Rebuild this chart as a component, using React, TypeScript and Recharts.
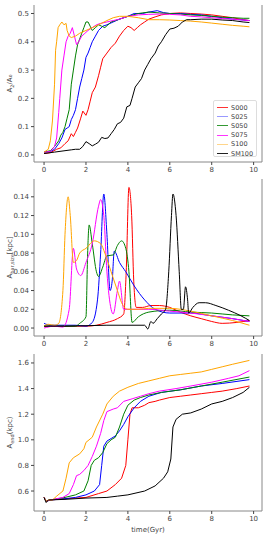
import { LineChart, Line, XAxis, YAxis } from 'recharts';

type Pt = [number, number];

// series names and colours
const names = ['S000', 'S025', 'S050', 'S075', 'S100', 'SM100'];
const colors = ['#ff0000', '#0000ff', '#008000', '#ff00ff', '#ffa500', '#000000'];
const legendColors = ['#ff3333', '#9999ff', '#339933', '#ff33ff', '#ffd58a', '#222222'];

const xTicks = [0, 2, 4, 6, 8, 10];
const ratioTicks = [0, 0.1, 0.2, 0.3, 0.4, 0.5];
const sizeTicks = [0, 0.02, 0.04, 0.06, 0.08, 0.1, 0.12, 0.14];
const endTicks = [0.6, 0.8, 1.0, 1.2, 1.4, 1.6];

// panel 1: A2/A0
const ratioS000: Pt[] = [[0,0.005],[0.3,0.008],[0.6,0.02],[0.8,0.025],[1.0,0.04],[1.15,0.05],[1.3,0.075],[1.4,0.065],[1.5,0.08],[1.6,0.095],[1.75,0.13],[1.85,0.155],[2.0,0.14],[2.1,0.16],[2.2,0.19],[2.3,0.22],[2.45,0.24],[2.6,0.28],[2.7,0.31],[2.8,0.34],[3.0,0.36],[3.2,0.38],[3.4,0.395],[3.6,0.42],[3.8,0.44],[4.0,0.455],[4.15,0.45],[4.3,0.44],[4.45,0.45],[4.6,0.46],[4.8,0.47],[5.0,0.48],[5.3,0.488],[5.6,0.495],[6.0,0.5],[6.5,0.502],[7.0,0.5],[7.5,0.498],[8.0,0.495],[8.5,0.49],[9.0,0.485],[9.5,0.478],[9.8,0.475]];
const ratioS025: Pt[] = [[0,0.01],[0.3,0.012],[0.5,0.02],[0.7,0.04],[0.85,0.06],[1.0,0.09],[1.1,0.095],[1.2,0.1],[1.3,0.125],[1.4,0.14],[1.5,0.16],[1.6,0.2],[1.7,0.24],[1.8,0.27],[1.9,0.3],[2.0,0.345],[2.1,0.36],[2.2,0.38],[2.3,0.4],[2.45,0.42],[2.6,0.44],[2.8,0.455],[3.0,0.46],[3.3,0.47],[3.6,0.48],[4.0,0.49],[4.3,0.5],[4.7,0.5],[5.0,0.505],[5.4,0.51],[5.7,0.503],[6.0,0.5],[6.5,0.5],[7.0,0.497],[7.5,0.495],[8.0,0.49],[8.5,0.485],[9.0,0.48],[9.5,0.477],[9.8,0.475]];
const ratioS050: Pt[] = [[0,0.01],[0.3,0.015],[0.5,0.03],[0.7,0.05],[0.8,0.07],[0.9,0.08],[1.0,0.1],[1.1,0.13],[1.2,0.16],[1.3,0.25],[1.4,0.3],[1.5,0.35],[1.6,0.39],[1.7,0.41],[1.8,0.43],[1.9,0.45],[2.0,0.47],[2.1,0.47],[2.2,0.455],[2.3,0.44],[2.45,0.45],[2.6,0.46],[2.75,0.455],[2.9,0.45],[3.05,0.46],[3.2,0.47],[3.4,0.475],[3.6,0.48],[4.0,0.49],[4.5,0.5],[5.0,0.505],[5.5,0.502],[6.0,0.5],[6.5,0.498],[7.0,0.495],[7.5,0.493],[8.0,0.49],[8.5,0.487],[9.0,0.485],[9.5,0.483],[9.8,0.483]];
const ratioS075: Pt[] = [[0,0.01],[0.3,0.012],[0.5,0.03],[0.6,0.06],[0.7,0.15],[0.75,0.2],[0.85,0.3],[0.95,0.35],[1.05,0.4],[1.15,0.42],[1.25,0.43],[1.35,0.45],[1.45,0.42],[1.55,0.39],[1.65,0.4],[1.8,0.42],[1.95,0.43],[2.1,0.44],[2.3,0.45],[2.5,0.46],[2.7,0.465],[3.0,0.47],[3.3,0.475],[3.6,0.48],[4.0,0.49],[4.5,0.495],[5.0,0.497],[5.5,0.498],[6.0,0.497],[6.5,0.495],[7.0,0.49],[7.5,0.488],[8.0,0.485],[8.5,0.482],[9.0,0.48],[9.5,0.477],[9.8,0.475]];
const ratioS100: Pt[] = [[0,0.01],[0.2,0.02],[0.3,0.05],[0.4,0.12],[0.5,0.25],[0.55,0.37],[0.6,0.4],[0.67,0.45],[0.75,0.46],[0.85,0.47],[0.95,0.46],[1.05,0.465],[1.1,0.44],[1.2,0.42],[1.3,0.415],[1.5,0.42],[1.7,0.43],[2.0,0.44],[2.3,0.45],[2.6,0.46],[3.0,0.475],[3.3,0.485],[3.6,0.49],[4.0,0.49],[4.5,0.485],[5.0,0.478],[5.5,0.478],[6.0,0.477],[6.5,0.475],[7.0,0.473],[7.5,0.47],[8.0,0.466],[8.5,0.462],[9.0,0.458],[9.5,0.455],[9.8,0.453]];
const ratioSM100: Pt[] = [[0,0.005],[0.5,0.01],[1.0,0.015],[1.3,0.018],[1.5,0.02],[1.7,0.02],[1.85,0.03],[2.0,0.047],[2.15,0.04],[2.3,0.032],[2.45,0.038],[2.6,0.045],[2.75,0.062],[2.9,0.058],[3.05,0.06],[3.2,0.075],[3.35,0.09],[3.5,0.11],[3.65,0.115],[3.8,0.13],[3.95,0.17],[4.1,0.175],[4.2,0.2],[4.35,0.24],[4.5,0.255],[4.65,0.27],[4.8,0.3],[4.95,0.32],[5.1,0.34],[5.3,0.36],[5.45,0.385],[5.6,0.4],[5.8,0.425],[6.0,0.445],[6.2,0.448],[6.4,0.455],[6.6,0.47],[6.8,0.478],[7.0,0.478],[7.5,0.48],[8.0,0.48],[8.5,0.477],[9.0,0.475],[9.5,0.47],[9.8,0.468]];

// panel 2: bar size
const sizeS000: Pt[] = [[0,0.002],[1.0,0.002],[2.0,0.002],[2.5,0.003],[3.0,0.006],[3.5,0.01],[3.8,0.015],[3.92,0.06],[4.05,0.15],[4.18,0.12],[4.28,0.05],[4.4,0.022],[4.7,0.022],[5.1,0.024],[5.5,0.024],[6.0,0.022],[6.5,0.017],[7.0,0.013],[7.5,0.01],[8.0,0.007],[8.5,0.005],[9.2,0.006],[9.8,0.008]];
const sizeS025: Pt[] = [[0,0.005],[0.3,0.003],[1.0,0.003],[1.5,0.003],[2.0,0.002],[2.3,0.006],[2.55,0.03],[2.7,0.08],[2.85,0.143],[3.0,0.1],[3.15,0.04],[3.25,0.05],[3.35,0.082],[3.6,0.07],[3.9,0.06],[4.3,0.045],[4.8,0.03],[5.3,0.02],[6.0,0.016],[7.0,0.016],[8.0,0.013],[9.0,0.01],[9.8,0.007]];
const sizeS050: Pt[] = [[0,0.002],[0.5,0.002],[1.0,0.002],[1.5,0.002],[1.7,0.005],[2.0,0.012],[2.08,0.08],[2.15,0.11],[2.3,0.09],[2.5,0.06],[2.6,0.055],[2.8,0.065],[3.0,0.077],[3.3,0.078],[3.5,0.088],[3.7,0.093],[3.9,0.085],[4.05,0.06],[4.2,0.006],[4.5,0.012],[5.0,0.017],[6.0,0.019],[7.0,0.017],[8.0,0.016],[9.0,0.014],[9.8,0.013]];
const sizeS075: Pt[] = [[0,0],[0.5,0.002],[0.9,0.001],[1.2,0.02],[1.4,0.085],[1.55,0.063],[1.75,0.056],[2.0,0.07],[2.3,0.09],[2.6,0.13],[2.7,0.137],[2.85,0.12],[3.0,0.06],[3.2,0.02],[3.3,0.015],[3.5,0.04],[3.6,0.05],[3.8,0.02],[4.0,0.02],[5.0,0.02],[6.0,0.018],[7.0,0.016],[8.0,0.013],[9.0,0.01],[9.8,0.007]];
const sizeS100: Pt[] = [[0,0.002],[0.2,0.004],[0.5,0.003],[0.7,0.005],[0.9,0.04],[1.0,0.1],[1.15,0.14],[1.25,0.12],[1.4,0.07],[1.55,0.072],[1.7,0.08],[2.0,0.085],[2.4,0.093],[2.7,0.09],[2.9,0.08],[3.2,0.06],[3.5,0.04],[3.7,0.027],[4.0,0.02],[4.5,0.02],[5.0,0.021],[6.0,0.021],[7.0,0.018],[8.0,0.013],[9.0,0.008],[9.8,0.003]];
const sizeSM100: Pt[] = [[0,0.002],[1.0,0.002],[3.0,0.003],[4.8,0.003],[4.95,-0.001],[5.1,0.007],[5.2,0.005],[5.4,0.01],[5.6,0.015],[5.8,0.02],[5.95,0.06],[6.08,0.12],[6.15,0.143],[6.3,0.12],[6.45,0.06],[6.55,0.02],[6.65,0.02],[6.75,0.044],[6.85,0.03],[6.9,0.016],[7.1,0.022],[7.4,0.027],[7.7,0.027],[8.2,0.024],[8.8,0.019],[9.4,0.013],[9.8,0.008]];

// panel 3: bar end
const endS000: Pt[] = [[0,0.55],[0.1,0.52],[0.3,0.53],[1.0,0.54],[2.0,0.55],[2.6,0.58],[3.0,0.6],[3.4,0.65],[3.7,0.7],[3.9,0.8],[4.0,1.0],[4.1,1.2],[4.2,1.25],[4.5,1.25],[4.8,1.27],[5.0,1.29],[5.3,1.3],[5.5,1.31],[6.0,1.33],[6.5,1.34],[7.0,1.35],[7.5,1.36],[8.0,1.37],[8.5,1.38],[9.2,1.4],[9.8,1.42]];
const endS025: Pt[] = [[0,0.55],[0.1,0.52],[0.3,0.53],[1.0,0.54],[1.5,0.55],[2.0,0.57],[2.4,0.6],[2.65,0.65],[2.75,0.8],[2.85,0.95],[3.0,0.99],[3.2,1.01],[3.4,1.03],[3.6,1.07],[3.8,1.12],[4.0,1.18],[4.3,1.25],[4.6,1.3],[5.0,1.34],[5.6,1.37],[6.5,1.39],[7.5,1.42],[8.5,1.44],[9.8,1.47]];
const endS050: Pt[] = [[0,0.55],[0.1,0.52],[0.3,0.53],[1.0,0.55],[1.5,0.57],[1.9,0.6],[2.1,0.68],[2.25,0.8],[2.4,0.84],[2.6,0.86],[2.8,0.9],[3.0,0.97],[3.2,1.0],[3.4,1.02],[3.6,1.1],[3.8,1.2],[4.0,1.27],[4.3,1.31],[4.6,1.33],[5.0,1.35],[5.6,1.37],[6.5,1.39],[7.5,1.42],[8.5,1.45],[9.8,1.49]];
const endS075: Pt[] = [[0,0.55],[0.1,0.52],[0.3,0.53],[0.9,0.55],[1.2,0.58],[1.4,0.65],[1.55,0.72],[1.7,0.73],[1.9,0.76],[2.1,0.8],[2.3,0.87],[2.5,0.95],[2.7,1.05],[2.85,1.15],[3.0,1.22],[3.3,1.24],[3.5,1.25],[3.8,1.3],[4.2,1.32],[4.6,1.34],[5.0,1.36],[5.5,1.38],[6.3,1.4],[7.0,1.42],[8.0,1.45],[8.8,1.48],[9.3,1.5],[9.8,1.54]];
const endS100: Pt[] = [[0,0.55],[0.1,0.52],[0.2,0.53],[0.4,0.53],[0.6,0.56],[0.9,0.6],[1.05,0.7],[1.2,0.82],[1.4,0.86],[1.7,0.89],[1.9,0.93],[2.0,0.98],[2.3,1.02],[2.5,1.1],[2.8,1.2],[3.0,1.28],[3.3,1.34],[3.6,1.38],[4.0,1.41],[4.5,1.44],[5.0,1.46],[5.5,1.48],[6.0,1.5],[6.5,1.51],[7.0,1.52],[7.5,1.53],[8.0,1.55],[8.5,1.57],[9.0,1.59],[9.8,1.62]];
const endSM100: Pt[] = [[0,0.55],[0.1,0.51],[0.2,0.53],[1.0,0.535],[2.0,0.545],[3.0,0.55],[3.5,0.56],[4.0,0.57],[4.8,0.6],[5.3,0.64],[5.7,0.7],[5.9,0.75],[6.05,0.85],[6.15,1.1],[6.3,1.16],[6.6,1.2],[7.0,1.21],[7.5,1.24],[8.0,1.28],[8.5,1.3],[9.0,1.33],[9.5,1.37],[9.8,1.41]];

const ratioSeries = [ratioS000, ratioS025, ratioS050, ratioS075, ratioS100, ratioSM100];
const sizeSeries = [sizeS000, sizeS025, sizeS050, sizeS075, sizeS100, sizeSM100];
const endSeries = [endS000, endS025, endS050, endS075, endS100, endSM100];

const X_DOMAIN: [number, number] = [-0.48, 10.4];
const FRAME = '#888';
const TEXT = '#444';

const toRows = (pts: Pt[]) => pts.map(([t, v]) => ({ t, v }));

function YTitle({ viewBox, main, sub, tail }: any) {
  const cx = 12;
  const cy = viewBox.y + viewBox.height / 2;
  return (
    <text x={cx} y={cy} transform={`rotate(-90 ${cx} ${cy})`} textAnchor="middle" fontSize={7} fill={TEXT} fontFamily="DejaVu Sans">
      <tspan>{main}</tspan>
      <tspan dy={1.5} fontSize={5}>{sub}</tspan>
      <tspan dy={-1.5}>{tail}</tspan>
    </text>
  );
}

function Legendbox() {
  return (
    <div style={{ position: 'absolute', left: 213, top: 100, width: 44, height: 57, border: '1px solid #ddd', background: 'rgba(255,255,255,0.8)', borderRadius: 2, boxSizing: 'border-box', padding: '2px 0 0 3px', fontFamily: 'DejaVu Sans', fontSize: 6.5, color: TEXT }}>
      {names.map((n, i) => (
        <div key={n} style={{ display: 'flex', alignItems: 'center', height: 9.2 }}>
          <svg width={11} height={3} style={{ marginRight: 3 }}>
            <line x1={0} y1={1.5} x2={11} y2={1.5} stroke={legendColors[i]} strokeWidth={1} />
          </svg>
          <span>{n}</span>
        </div>
      ))}
    </div>
  );
}

interface PanelProps {
  height: number;
  top: number;
  axisHeight: number;
  series: Pt[][];
  domain: [number, number];
  ticks: number[];
  digits: number;
  title: { main: string; sub: string; tail: string };
  curve: 'linear' | 'monotone';
  xLabel?: string;
}

function Panel({ height, top, axisHeight, series, domain, ticks, digits, title, curve, xLabel }: PanelProps) {
  return (
    <LineChart width={265} height={height} margin={{ top, right: 2, left: 0, bottom: 0 }}>
      <XAxis
        dataKey="t"
        type="number"
        domain={X_DOMAIN}
        ticks={xTicks}
        allowDataOverflow
        height={axisHeight}
        tickSize={3}
        tick={{ fontSize: 7, fill: TEXT, fontFamily: 'DejaVu Sans' }}
        axisLine={{ stroke: FRAME }}
        tickLine={{ stroke: TEXT }}
        label={xLabel ? { value: xLabel, position: 'insideBottom', offset: 3, fontSize: 7, fill: TEXT, fontFamily: 'DejaVu Sans' } : undefined}
      />
      <XAxis xAxisId="top" orientation="top" type="number" domain={X_DOMAIN} allowDataOverflow height={0} tick={false} tickLine={false} axisLine={{ stroke: FRAME, strokeWidth: 1.5 }} />
      <YAxis
        type="number"
        domain={domain}
        ticks={ticks}
        allowDataOverflow
        width={34}
        tickSize={3}
        tick={{ fontSize: 7, fill: TEXT, fontFamily: 'DejaVu Sans' }}
        tickFormatter={(v: number) => v.toFixed(digits)}
        axisLine={{ stroke: FRAME }}
        tickLine={{ stroke: TEXT }}
        label={{ content: (p: any) => <YTitle viewBox={p.viewBox} {...title} /> }}
      />
      <YAxis yAxisId="right" orientation="right" type="number" domain={domain} allowDataOverflow width={1} tick={false} tickLine={false} axisLine={{ stroke: FRAME, strokeWidth: 1 }} />
      {series.map((s, i) => (
        <Line
          key={names[i]}
          data={toRows(s)}
          dataKey="v"
          name={names[i]}
          type={curve}
          stroke={colors[i]}
          strokeWidth={1}
          dot={false}
          isAnimationActive={false}
        />
      ))}
    </LineChart>
  );
}

export default function App() {
  return (
    <div style={{ position: 'absolute', left: 0, top: 0, width: 265, height: 535, background: '#fff' }}>
      <div style={{ position: 'relative' }}>
        <Panel height={174} top={5} axisHeight={12} series={ratioSeries} domain={[-0.025, 0.53]} ticks={ratioTicks} digits={1} title={{ main: 'A', sub: '2', tail: '/A₀' }} curve="linear" />
        <Legendbox />
      </div>
      <Panel height={174} top={5} axisHeight={12} series={sizeSeries} domain={[-0.0085, 0.159]} ticks={sizeTicks} digits={2} title={{ main: 'A', sub: 'bar,size', tail: '[kpc]' }} curve="monotone" />
      <Panel height={187} top={6} axisHeight={24} series={endSeries} domain={[0.444, 1.67]} ticks={endTicks} digits={1} title={{ main: 'A', sub: 'end', tail: '(kpc)' }} curve="linear" xLabel="time(Gyr)" />
    </div>
  );
}
